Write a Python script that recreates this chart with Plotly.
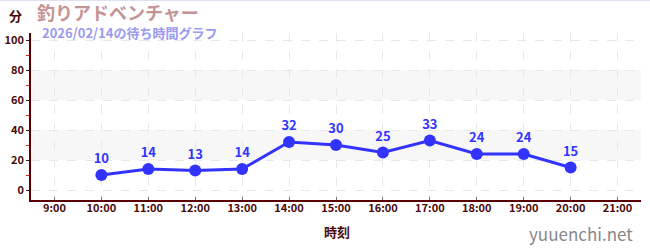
import plotly.graph_objects as go

hours = [10, 11, 12, 13, 14, 15, 16, 17, 18, 19, 20]
waits = [10, 14, 13, 14, 32, 30, 25, 33, 24, 24, 15]
tick_hours = list(range(9, 22))
tick_labels = [f"{h}:00" for h in tick_hours]
y_ticks = [0, 20, 40, 60, 80, 100]

W, H = 650, 250
L, R, T, B = 31, 9, 33, 50
pw, ph = W - L - R, H - T - B

def px(x):
    return (x - L) / pw

def py(y):
    return (H - B - y) / ph

FONT = "Noto Sans CJK JP"
DARK = "#4a0a0a"
BLUE = "#3333ff"

fig = go.Figure()
fig.add_trace(go.Scatter(
    x=hours, y=waits, mode="lines+markers+text",
    text=[str(v) for v in waits], textposition="top center",
    textfont=dict(family=FONT, size=13, color=BLUE, weight="bold"),
    line=dict(color=BLUE, width=3),
    marker=dict(color=BLUE, size=12),
    hoverinfo="skip", showlegend=False, cliponaxis=False,
))

for a, b in [(20, 40), (60, 80)]:
    fig.add_shape(type="rect", xref="paper", x0=0, x1=1, yref="y", y0=a, y1=b,
                  fillcolor="#f7f7f7", line_width=0, layer="below")

fig.update_layout(
    width=W, height=H,
    margin=dict(l=L, r=R, t=T, b=B, autoexpand=False),
    paper_bgcolor="white", plot_bgcolor="white",
    font=dict(family=FONT, color=DARK),
    xaxis=dict(
        range=[8.5, 21.5], tickvals=tick_hours, ticktext=tick_labels,
        tickfont=dict(family=FONT, size=11, color=DARK, weight="bold"),
        showgrid=True, gridcolor="#e8e8e8", griddash="dash", gridwidth=1,
        showline=True, linecolor="#5a0000", linewidth=1.5,
        ticks="inside", ticklen=3, tickcolor="#777777",
        ticklabelstandoff=-3,
        zeroline=False, fixedrange=True, automargin=False,
    ),
    yaxis=dict(
        range=[-6.67, 104.67], tickvals=y_ticks,
        tickfont=dict(family=FONT, size=11, color=DARK, weight="bold"),
        showgrid=True, gridcolor="#e8e8e8", griddash="dash", gridwidth=1,
        showline=True, linecolor="#5a0000", linewidth=1.5,
        ticks="outside", ticklen=3, tickcolor="#222222",
        minor=dict(tickvals=[10, 30, 50, 70, 90], ticks="outside", ticklen=3,
                   tickcolor="#dd2222", showgrid=False),
        zeroline=False, fixedrange=True, automargin=False,
    ),
)

anns = [
    dict(text="分", x=px(15), y=py(16), size=13, color=DARK, bold=True, xanchor="center"),
    dict(text="釣りアドベンチャー", x=px(35), y=py(12), size=18, color="#c49494", bold=True, xanchor="left"),
    dict(text="2026/02/14の待ち時間グラフ", x=px(40), y=py(32), size=13, color="#9a9af0", bold=True, xanchor="left"),
    dict(text="時刻", x=px(337), y=py(231), size=13, color=DARK, bold=True, xanchor="center"),
    dict(text="yuuenchi.net", x=px(635), y=py(233), size=17, color="#888888", bold=False, xanchor="right"),
]
for a in anns:
    fig.add_annotation(
        text=a["text"], xref="paper", yref="paper", x=a["x"], y=a["y"],
        xanchor=a["xanchor"], yanchor="middle", showarrow=False,
        font=dict(family=FONT, size=a["size"], color=a["color"],
                  weight="bold" if a["bold"] else "normal"),
    )

fig.add_shape(type="line", xref="paper", yref="paper", x0=px(0), x1=px(W), y0=py(0.5), y1=py(0.5),
              line=dict(color="#e0e0f4", width=1))

fig.write_html("out.html")
